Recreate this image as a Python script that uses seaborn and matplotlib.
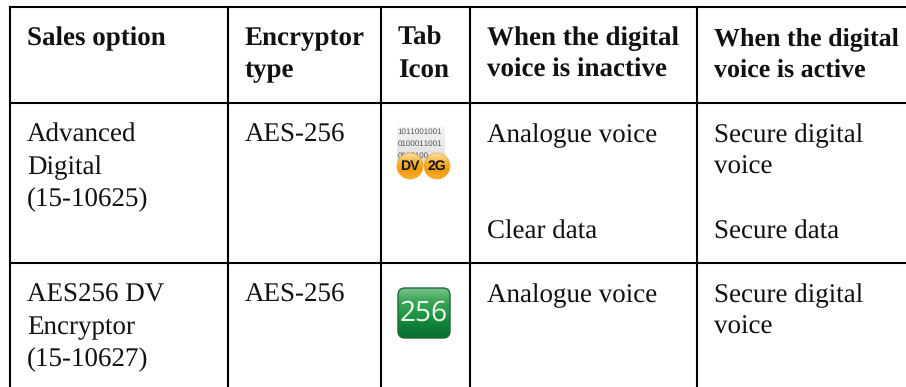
#!/usr/bin/env python3
"""Sales option table for the digital voice encryptors, drawn on a pixel grid."""

import matplotlib

matplotlib.use("Agg")
import matplotlib.pyplot as plt
import numpy as np
import pandas as pd
import seaborn as sns
from matplotlib.colors import LinearSegmentedColormap
from matplotlib.patches import Circle, FancyBboxPatch

WIDTH, HEIGHT = 906, 387
COLUMN_EDGES = [10, 228, 381, 470, 697]
ROW_EDGES = [7, 102.5, 263]

HEADERS = [
    "Sales option",
    "Encryptor\ntype",
    "Tab\nIcon",
    "When the digital\nvoice is inactive",
    "When the digital\nvoice is active",
]
SALES_OPTIONS = ["Advanced\nDigital\n(15-10625)", "AES256 DV\nEncryptor\n(15-10627)"]
ENCRYPTOR_TYPES = ["AES-256", "AES-256"]
INACTIVE = ["Analogue voice\n\n\nClear data", "Analogue voice"]
ACTIVE = ["Secure digital\nvoice\n\nSecure data", "Secure digital\nvoice"]
BINARY_LINES = ["1011001001", "0100011001", "0010100"]

TEXT_PAD = 17
LINE_PITCH = 32.2
TEXT_COLOR = "#111111"
BODY_SIZE = 19.2
HEADER_SIZE = 19.1


def draw_rules(ax):
    rules = pd.DataFrame(
        [{"x": x, "y": y, "rule": f"v{x}"} for x in COLUMN_EDGES for y in (ROW_EDGES[0], HEIGHT)]
        + [{"x": x, "y": y, "rule": f"h{y}"} for y in ROW_EDGES for x in (COLUMN_EDGES[0], WIDTH)]
    )
    sns.lineplot(
        data=rules,
        x="x",
        y="y",
        units="rule",
        estimator=None,
        sort=False,
        color="black",
        linewidth=1.5,
        legend=False,
        solid_capstyle="projecting",
        ax=ax,
    )


def cell_text(ax, col, baseline, text, bold=False, size=BODY_SIZE):
    x = COLUMN_EDGES[col] + TEXT_PAD
    for i, line in enumerate(text.split("\n")):
        ax.text(
            x,
            baseline + i * LINE_PITCH,
            line,
            family="Liberation Serif",
            fontsize=size,
            fontweight="bold" if bold else "normal",
            color=TEXT_COLOR,
            ha="left",
            va="baseline",
        )


def gradient_fill(ax, patch, extent, colors, zorder=3):
    # Vertical gradient clipped to the patch outline.
    cmap = LinearSegmentedColormap.from_list("fill", colors)
    ramp = np.linspace(0, 1, 64).reshape(-1, 1)
    image = ax.imshow(ramp, cmap=cmap, extent=extent, origin="upper", aspect="auto",
                      interpolation="bilinear", zorder=zorder)
    ax.add_patch(patch)
    image.set_clip_path(patch)


def draw_dv_icon(ax):
    block = FancyBboxPatch((397, 127), 48, 38, boxstyle="square,pad=0", fc="none", ec="none")
    gradient_fill(ax, block, (397, 445, 165, 127), ["#f4f4f6", "#dcdce0"])
    for i, line in enumerate(BINARY_LINES):
        ax.text(397.5, 132 + i * 12, line, family="Liberation Sans", fontsize=5.8,
                color="#555555", ha="left", va="center", zorder=4)
    for cx, label in ((410, "DV"), (437, "2G")):
        circle = Circle((cx, 166), 13, fc="none", ec="#f2a52a", lw=0.5, zorder=5)
        gradient_fill(ax, circle, (cx - 13, cx + 13, 179, 153),
                      ["#fde3a8", "#f7b53c", "#f09a10", "#f6b030"], zorder=5)
        ax.text(cx, 166.5, label, family="Liberation Sans", fontsize=10, fontweight="bold",
                color="#151515", ha="center", va="center", zorder=6)


def draw_256_icon(ax):
    body = FancyBboxPatch(
        (398, 288), 52, 50,
        boxstyle="round,pad=0,rounding_size=7",
        fc="none", ec="#1a6a3a", lw=1.0, zorder=5,
    )
    gradient_fill(ax, body, (397, 451, 339, 287),
                  ["#7cc48c", "#3fa65a", "#219a45", "#0f7f38", "#0a6f33"])
    ax.text(424, 313, "256", family="Open Sans", fontsize=20.5,
            color="#f2f8f2", ha="center", va="center", zorder=6)


def main():
    sns.set_theme(style="white")
    plt.rcParams["text.hinting"] = "no_hinting"
    plt.rcParams["text.hinting_factor"] = 1
    fig, ax = plt.subplots(figsize=(WIDTH / 100, HEIGHT / 100), dpi=100)
    fig.subplots_adjust(left=0, right=1, top=1, bottom=0)

    draw_rules(ax)

    for col, header in enumerate(HEADERS):
        # The last header is set slightly tighter in the source table.
        size = 18.5 if col == len(HEADERS) - 1 else HEADER_SIZE
        cell_text(ax, col, 45, header, bold=True, size=size)

    for row, baseline in enumerate((142, 302)):
        cell_text(ax, 0, baseline, SALES_OPTIONS[row])
        cell_text(ax, 1, baseline, ENCRYPTOR_TYPES[row])
        cell_text(ax, 3, baseline, INACTIVE[row])
        cell_text(ax, 4, baseline, ACTIVE[row])

    draw_dv_icon(ax)
    draw_256_icon(ax)

    ax.set_xlim(0, WIDTH)
    ax.set_ylim(HEIGHT, 0)
    ax.axis("off")

    fig.savefig("out.png", dpi=100)
    plt.close(fig)


if __name__ == "__main__":
    main()
